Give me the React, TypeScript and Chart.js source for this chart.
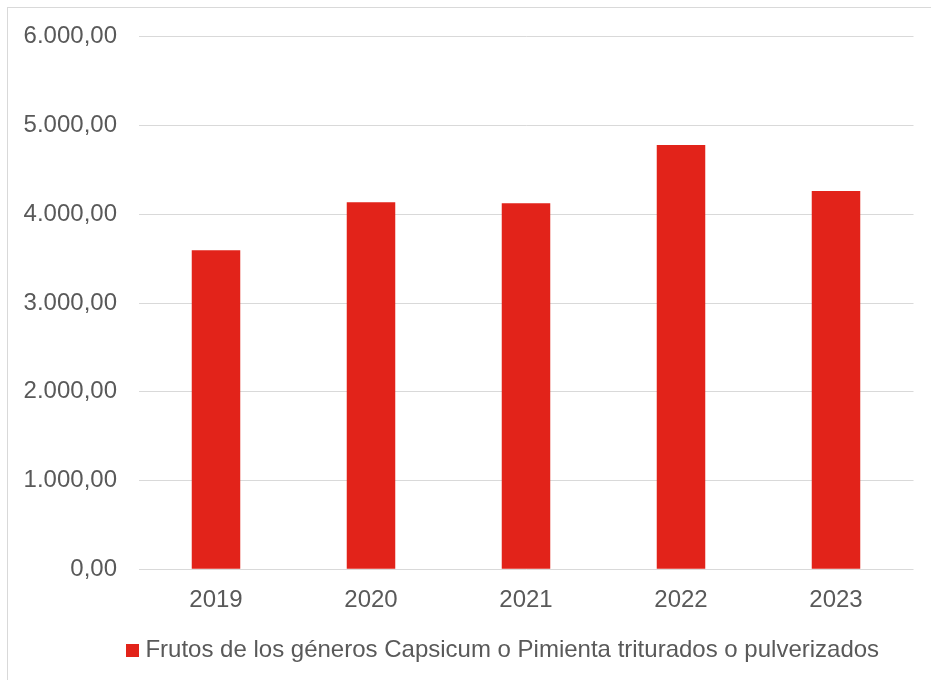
import React, { useEffect, useRef } from "react";
import { Chart, registerables } from "chart.js";

Chart.register(...registerables);

const categories = ["2019", "2020", "2021", "2022", "2023"];
const seriesLabel = "Frutos de los géneros Capsicum o Pimienta triturados o pulverizados";
const seriesValues = [3594, 4135, 4124, 4780, 4262];
const yMin = 0;
const yMax = 6000;
const yStep = 1000;

const BAR_COLOR = "#E2231A";
const TEXT_COLOR = "#595959";
const GRID_COLOR = "#D9D9D9";
const FONT = "'Liberation Sans', Arial, sans-serif";

function formatEs(v: number): string {
  const fixed = Math.abs(v).toFixed(2);
  const [intPart, dec] = fixed.split(".");
  const withDots = intPart.replace(/\B(?=(\d{3})+(?!\d))/g, ".");
  return (v < 0 ? "-" : "") + withDots + "," + dec;
}

function makeLegendSwatch(): HTMLCanvasElement {
  const c = document.createElement("canvas");
  c.width = 13;
  c.height = 13;
  const ctx = c.getContext("2d");
  if (ctx) {
    ctx.fillStyle = BAR_COLOR;
    ctx.fillRect(0, 0, 13, 13);
  }
  return c;
}

const legendShift = {
  id: "legendShift",
  afterLayout(chart: any) {
    const lg = chart.legend;
    if (lg) {
      lg.left += 98;
    }
  },
};

export default function App() {
  const canvasRef = useRef<HTMLCanvasElement | null>(null);

  useEffect(() => {
    if (!canvasRef.current) return;
    const swatch = makeLegendSwatch();
    const chart = new Chart(canvasRef.current, {
      type: "bar",
      data: {
        labels: categories,
        datasets: [
          {
            label: seriesLabel,
            data: seriesValues,
            backgroundColor: BAR_COLOR,
            borderWidth: 0,
            barPercentage: 0.313,
            categoryPercentage: 1,
          },
        ],
      },
      plugins: [legendShift],
      options: {
        responsive: false,
        animation: false,
        maintainAspectRatio: false,
        layout: { padding: { top: 36.7, right: 17.5, bottom: 8, left: 0 } },
        plugins: {
          tooltip: { enabled: false },
          legend: {
            display: true,
            position: "bottom",
            labels: {
              color: TEXT_COLOR,
              font: { family: FONT, size: 24 },
              usePointStyle: true,
              pointStyle: swatch as any,
              pointStyleWidth: 1,
              boxHeight: 13,
              padding: 10,
            },
          },
        },
        scales: {
          x: {
            grid: { display: false, drawTicks: false },
            border: { display: false },
            ticks: {
              color: TEXT_COLOR,
              font: { family: FONT, size: 24 },
              padding: 17,
            },
            afterFit: (scale: any) => {
              scale.height = 58.7;
            },
          },
          y: {
            min: yMin,
            max: yMax,
            grid: { color: GRID_COLOR, lineWidth: 1, drawTicks: false },
            border: { display: false },
            ticks: {
              stepSize: yStep,
              color: TEXT_COLOR,
              font: { family: FONT, size: 24 },
              padding: 21.5,
              callback: (v: any) => formatEs(Number(v)),
            },
            afterFit: (scale: any) => {
              scale.width = 138.5;
            },
          },
        },
      },
    });
    return () => chart.destroy();
  }, []);

  return (
    <>
      <div
        style={{
          position: "fixed",
          left: 7,
          top: 7,
          width: 923,
          height: 672,
          border: "1px solid #D9D9D9",
          boxSizing: "content-box",
          background: "#fff",
        }}
      />
      <canvas
        ref={canvasRef}
        width={931}
        height={680}
        style={{ position: "fixed", left: 0, top: 0, width: 931, height: 680 }}
      />
    </>
  );
}
